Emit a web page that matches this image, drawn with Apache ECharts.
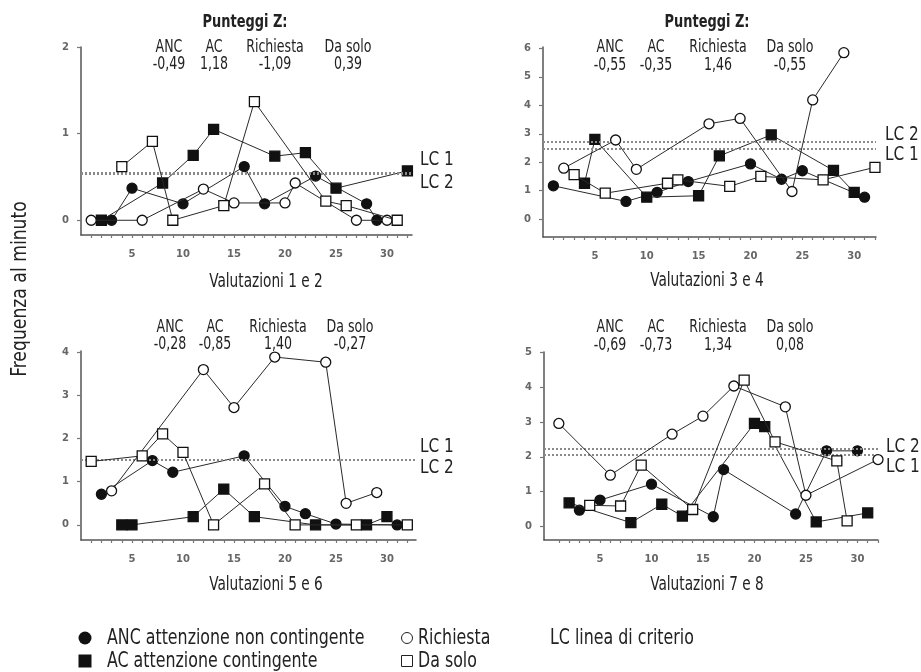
<!DOCTYPE html>
<html>
<head>
<meta charset="utf-8">
<script src="https://cdn.jsdelivr.net/npm/echarts@6/dist/echarts.min.js"></script>
<style>html,body{margin:0;padding:0;background:#fff}#c{width:921px;height:672px}</style>
</head>
<body>
<div id="c"></div>
<script>
// ---------- DATA ----------
// Panel 1: Valutazioni 1 e 2   [session, frequenza al minuto]
const p1_anc = [[3,0],[5,0.37],[10,0.19],[16,0.62],[18,0.19],[23,0.51],[28,0.19],[29,0]];
const p1_ac  = [[2,0],[8,0.43],[11,0.75],[13,1.05],[19,0.74],[22,0.78],[25,0.37],[32,0.57]];
const p1_ric = [[1,0],[6,0],[12,0.36],[15,0.2],[20,0.2],[21,0.43],[27,0],[30,0]];
const p1_ds  = [[4,0.62],[7,0.91],[9,0],[14,0.17],[17,1.37],[24,0.22],[26,0.17],[31,0]];
// Panel 2: Valutazioni 3 e 4
const p2_anc = [[1,1.17],[8,0.62],[11,0.94],[14,1.32],[20,1.94],[23,1.4],[25,1.7],[31,0.77]];
const p2_ac  = [[4,1.26],[5,2.8],[10,0.77],[15,0.82],[17,2.22],[22,2.96],[28,1.71],[30,0.94]];
const p2_ric = [[2,1.79],[7,2.78],[9,1.75],[16,3.35],[19,3.54],[24,0.97],[26,4.19],[29,5.85]];
const p2_ds  = [[3,1.56],[6,0.91],[12,1.26],[13,1.38],[18,1.15],[21,1.5],[27,1.38],[32,1.82]];
// Panel 3: Valutazioni 5 e 6
const p3_anc = [[2,0.71],[7,1.49],[9,1.22],[16,1.6],[20,0.43],[22,0.26],[25,0.02],[31,0]];
const p3_ac  = [[4,0],[5,0],[11,0.19],[14,0.83],[17,0.19],[23,0],[28,0],[30,0.19]];
const p3_ric = [[3,0.79],[12,3.6],[15,2.72],[19,3.89],[24,3.77],[26,0.5],[29,0.75]];
const p3_ds  = [[1,1.47],[6,1.6],[8,2.11],[10,1.68],[13,0],[18,0.95],[21,0],[27,0],[32,0]];
// Panel 4: Valutazioni 7 e 8
const p4_anc = [[3,0.46],[5,0.75],[10,1.21],[16,0.27],[17,1.63],[24,0.35],[27,2.17],[30,2.17]];
const p4_ac  = [[2,0.67],[8,0.1],[11,0.63],[13,0.29],[20,2.96],[21,2.87],[26,0.12],[31,0.38]];
const p4_ric = [[1,2.96],[6,1.47],[12,2.65],[15,3.17],[18,4.04],[23,3.44],[25,0.89],[32,1.92]];
const p4_ds  = [[4,0.6],[7,0.58],[9,1.76],[14,0.48],[19,4.21],[22,2.43],[28,1.88],[29,0.15]];

// Criterion lines (LC 1, LC 2) per panel
const lc1 = [0.55, 2.46, 1.5, 2.07];
const lc2 = [0.54, 2.72, 1.5, 2.22];

// Z scores per panel: ANC, AC, Richiesta, Da solo
const zLabels = ['ANC', 'AC', 'Richiesta', 'Da solo'];
const z1 = ['-0,49', '1,18', '-1,09', '0,39'];
const z2 = ['-0,55', '-0,35', '1,46', '-0,55'];
const z3 = ['-0,28', '-0,85', '1,40', '-0,27'];
const z4 = ['-0,69', '-0,73', '1,34', '0,08'];

const panelTitles = ['Valutazioni 1 e 2', 'Valutazioni 3 e 4', 'Valutazioni 5 e 6', 'Valutazioni 7 e 8'];

// Tick values
const xTickMarks = [1,2,3,4,5,6,7,8,9,10,11,12,13,14,15,16,17,18,19,20,21,22,23,24,25,26,27,28,29,30,31,32];
const xTickLabels = [5,10,15,20,25,30];
const p1_yTicks = [0,1,2];
const p2_yTicks = [0,1,2,3,4,5,6];
const p3_yTicks = [0,1,2,3,4];
const p4_yTicks = [0,1,2,3,4,5];

const legendNames = ['ANC attenzione non contingente', 'AC attenzione contingente', 'Richiesta', 'Da solo'];

// ---------- LAYOUT ----------
const FONT = "'DejaVu Sans Condensed','Liberation Sans',sans-serif";
const panels = [
  {data:[p1_anc,p1_ac,p1_ric,p1_ds], yTicks:p1_yTicks, z:z1, grid:{left:81, top:47, width:331, height:188}, x:[0,32.45], y:[-0.17,2],
   zCols:[169,214,275,348], zY:[47,64], punt:[245,22], title:[266,282], lcPos:[[420,160],[420,183]]},
  {data:[p2_anc,p2_ac,p2_ric,p2_ds], yTicks:p2_yTicks, z:z2, grid:{left:543, top:47, width:333, height:190}, x:[0,32.1], y:[-0.63,6.05],
   zCols:[610,656,718,790], zY:[47,65], punt:[707,22], title:[707,281], lcPos:[[885,155],[885,135]]},
  {data:[p3_anc,p3_ac,p3_ric,p3_ds], yTicks:p3_yTicks, z:z3, grid:{left:81, top:351, width:335, height:189}, x:[0,32.85], y:[-0.35,4.03],
   zCols:[170,215,278,350], zY:[327,344], punt:null, title:[266,585], lcPos:[[420,447],[420,468]]},
  {data:[p4_anc,p4_ac,p4_ric,p4_ds], yTicks:p4_yTicks, z:z4, grid:{left:544, top:352, width:334, height:188}, x:[-0.44,32], y:[-0.4,5.02],
   zCols:[610,656,718,790], zY:[327,345], punt:null, title:[707,585], lcPos:[[886,467],[886,447]]}
];

const symStyles = [
  {symbol:'circle', fill:'#111'},
  {symbol:'rect', fill:'#111'},
  {symbol:'circle', fill:'#fff'},
  {symbol:'rect', fill:'#fff'}
];

const grids = [], xAxes = [], yAxes = [], series = [], graphics = [];
const axisLabelStyle = {color:'#666', fontSize:10, fontWeight:'bold', fontFamily:'DejaVu Sans'};

function txt(text, x, y, size, opts) {
  opts = opts || {};
  return {type:'text', x:x, y:y, rotation: opts.rotation || 0, scaleX: opts.sx || 1, z: 100,
    style:{text:text, font:(opts.weight||'normal') + ' ' + size + 'px ' + FONT, fill: opts.fill || '#222',
      align: opts.align || 'center', verticalAlign:'middle', textAlign: opts.align || 'center', textVerticalAlign:'middle'}};
}

panels.forEach((p, i) => {
  grids.push(Object.assign({containLabel:false}, p.grid));
  xAxes.push({type:'value', gridIndex:i, min:p.x[0], max:p.x[1],
    axisLine:{show:true, onZero:false, lineStyle:{color:'#555', width:1.5}},
    axisTick:{show:true, customValues:xTickMarks, length:3, lineStyle:{color:'#777', width:1.2}},
    axisLabel:Object.assign({customValues:xTickLabels, margin:14}, axisLabelStyle),
    splitLine:{show:false}});
  yAxes.push({type:'value', gridIndex:i, min:p.y[0], max:p.y[1],
    axisLine:{show:true, onZero:false, lineStyle:{color:'#555', width:1.5}},
    axisTick:{show:true, customValues:p.yTicks, length:4, lineStyle:{color:'#777', width:1.2}},
    axisLabel:Object.assign({customValues:p.yTicks, margin:12}, axisLabelStyle),
    splitLine:{show:false}});
  p.data.forEach((d, k) => {
    series.push({type:'line', name:legendNames[k], xAxisIndex:i, yAxisIndex:i, data:d,
      symbol:symStyles[k].symbol, symbolSize:10, showSymbol:true,
      lineStyle:{color:'#2a2a2a', width:1},
      itemStyle:{color:symStyles[k].fill, borderColor:'#111', borderWidth:1.3},
      z: 3 + k, animation:false, silent:true});
  });
  series.push({type:'line', xAxisIndex:i, yAxisIndex:i, data:[], silent:true, animation:false,
    markLine:{silent:true, symbol:['none','none'], label:{show:false},
      lineStyle:{type:[2,2], color:'#8a8a8a', width:2},
      data:[{yAxis:lc1[i]}, {yAxis:lc2[i]}]}});

  // texts
  if (p.punt) graphics.push(txt('Punteggi Z:', p.punt[0], p.punt[1], 18, {weight:'bold', sx:0.8}));
  zLabels.forEach((lab, k) => {
    graphics.push(txt(lab, p.zCols[k], p.zY[0], 17.5, {sx:0.8}));
    graphics.push(txt(p.z[k], p.zCols[k], p.zY[1], 17.5, {sx:0.8}));
  });
  graphics.push(txt(panelTitles[i], p.title[0], p.title[1], 19.5, {sx:0.78}));
  graphics.push(txt('LC 1', p.lcPos[0][0], p.lcPos[0][1], 20, {align:'left', sx:0.85}));
  graphics.push(txt('LC 2', p.lcPos[1][0], p.lcPos[1][1], 20, {align:'left', sx:0.85}));
});

// y axis title
graphics.push(txt('Frequenza al minuto', 20, 289, 21.5, {rotation:Math.PI/2, sx:0.89}));

// legend block
graphics.push({type:'circle', shape:{cx:85, cy:638, r:6.5}, style:{fill:'#111'}});
graphics.push({type:'rect', shape:{x:78.5, y:654.5, width:13, height:13}, style:{fill:'#111'}});
graphics.push({type:'circle', shape:{cx:407, cy:638, r:5.5}, style:{fill:'#fff', stroke:'#222', lineWidth:1}});
graphics.push({type:'rect', shape:{x:401.5, y:655.5, width:11, height:11}, style:{fill:'#fff', stroke:'#222', lineWidth:1}});
graphics.push(txt(legendNames[0], 107, 638, 22, {align:'left', sx:0.8}));
graphics.push(txt(legendNames[1], 107, 661, 22, {align:'left', sx:0.8}));
graphics.push(txt(legendNames[2], 418, 638, 22, {align:'left', sx:0.8}));
graphics.push(txt(legendNames[3], 418, 661, 22, {align:'left', sx:0.8}));
graphics.push(txt('LC linea di criterio', 550, 638, 22, {align:'left', sx:0.8}));

const chart = echarts.init(document.getElementById('c'), null, {renderer:'canvas'});
chart.setOption({
  animation:false,
  backgroundColor:'#fff',
  grid:grids, xAxis:xAxes, yAxis:yAxes, series:series, graphic:graphics
});
</script>
</body>
</html>
